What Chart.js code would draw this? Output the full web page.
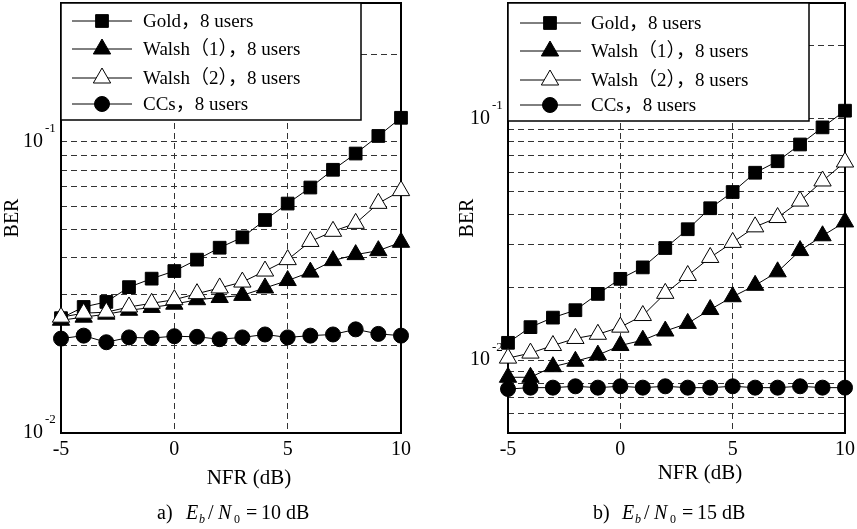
<!DOCTYPE html>
<html><head><meta charset="utf-8">
<script src="https://cdn.jsdelivr.net/npm/chart.js@4.4.1/dist/chart.umd.min.js"></script>
<style>
html,body{margin:0;padding:0;background:#fff;overflow:hidden;}
.w{position:absolute;top:0;}
#wa{left:0;width:428px;height:529px;}
#wb{left:428px;width:429px;height:529px;}
</style>
</head><body>
<div class="w" id="wa"><canvas id="ca" width="428" height="529"></canvas></div>
<div class="w" id="wb"><canvas id="cb" width="429" height="529"></canvas></div>
<script>
// ---- data ----
const nfr = [-5,-4,-3,-2,-1,0,1,2,3,4,5,6,7,8,9,10];
const seriesNames = ['Gold，8 users','Walsh（1），8 users','Walsh（2），8 users','CCs，8 users'];
const xTicks = [-5,0,5,10];

// a) Eb/N0 = 10 dB
const goldA   = [0.0248,0.0271,0.0282,0.0317,0.0339,0.0360,0.0394,0.0433,0.0470,0.0539,0.0614,0.0697,0.0802,0.0912,0.1048,0.121];
const walsh1A = [0.0244,0.0250,0.0256,0.0264,0.0270,0.0277,0.0287,0.0292,0.0297,0.0315,0.0334,0.0357,0.0391,0.0410,0.0423,0.0452];
const walsh2A = [0.0250,0.0258,0.0260,0.0271,0.0279,0.0287,0.0301,0.0315,0.0330,0.0360,0.0394,0.0455,0.0493,0.0525,0.0615,0.068];
const ccA     = [0.0211,0.0216,0.0205,0.0213,0.0212,0.0215,0.0214,0.0210,0.0213,0.0218,0.0213,0.0216,0.0218,0.0227,0.0219,0.0216];
const yTicksA = [0.01,0.02,0.03,0.04,0.05,0.06,0.07,0.08,0.09,0.1,0.2,0.3];

// b) Eb/N0 = 15 dB
const goldB   = [0.0118,0.0137,0.0150,0.0161,0.0188,0.0217,0.0242,0.0291,0.0348,0.0425,0.0496,0.0596,0.0665,0.0780,0.0918,0.1076];
const walsh1B = [0.0085,0.0085,0.0094,0.0099,0.0105,0.0115,0.0121,0.0132,0.0142,0.0162,0.0183,0.0204,0.0232,0.0284,0.0327,0.0373];
const walsh2B = [0.0102,0.0107,0.0115,0.0123,0.0128,0.0137,0.0153,0.0189,0.0224,0.0266,0.0307,0.0356,0.0389,0.0455,0.0551,0.066];
const ccB     = [0.0076,0.0077,0.0077,0.0078,0.0077,0.0078,0.0077,0.0078,0.0077,0.0077,0.0078,0.0077,0.0077,0.0078,0.0077,0.0077];
const yTicksB = [0.005,0.006,0.007,0.008,0.009,0.01,0.02,0.03,0.04,0.05,0.06,0.07,0.08,0.09,0.1,0.2,0.3];

// ---- styling ----
const SERIF = "'Liberation Serif','Times New Roman','Noto Sans CJK SC',serif";
const markerStyles = [
  {pointStyle:'rect', r:9, fill:'#000', order:4},
  {pointStyle:'triangle', r:10, fill:'#000', order:3},
  {pointStyle:'triangle', r:10, fill:'#fff', order:2},
  {pointStyle:'circle', r:7.5, fill:'#000', order:1}
];

function drawMarker(ctx, style, r, fill, x, y) {
  ctx.beginPath();
  if (style === 'rect') {
    const s = r * Math.SQRT1_2;
    ctx.rect(x - s, y - s, 2 * s, 2 * s);
  } else if (style === 'triangle') {
    ctx.moveTo(x, y - r);
    ctx.lineTo(x + r * Math.sin(2 * Math.PI / 3), y - r * Math.cos(2 * Math.PI / 3));
    ctx.lineTo(x + r * Math.sin(4 * Math.PI / 3), y - r * Math.cos(4 * Math.PI / 3));
    ctx.closePath();
  } else {
    ctx.arc(x, y, r, 0, Math.PI * 2);
  }
  ctx.fillStyle = fill; ctx.fill();
  ctx.lineWidth = 1; ctx.strokeStyle = '#000'; ctx.stroke();
}

const framePlugin = {
  id: 'frame',
  beforeDatasetsDraw(chart) {
    const a = chart.chartArea, ctx = chart.ctx;
    ctx.save(); ctx.strokeStyle = '#000'; ctx.lineWidth = 2;
    ctx.strokeRect(a.left, a.top, a.right - a.left, a.bottom - a.top);
    ctx.restore();
  }
};

const boxLegendPlugin = {
  id: 'boxLegend',
  afterDatasetsDraw(chart, args, o) {
    const a = chart.chartArea, ctx = chart.ctx;
    ctx.save();
    ctx.fillStyle = '#fff'; ctx.fillRect(a.left, a.top, o.w, o.h);
    ctx.strokeStyle = '#000'; ctx.lineWidth = 1.5; ctx.strokeRect(a.left, a.top, o.w, o.h);
    chart.data.datasets.forEach((ds, i) => {
      const y = a.top + o.rows[i];
      ctx.beginPath(); ctx.moveTo(a.left + o.lineX0, y); ctx.lineTo(a.left + o.lineX1, y);
      ctx.strokeStyle = '#000'; ctx.lineWidth = 1; ctx.stroke();
      drawMarker(ctx, ds.pointStyle, ds.pointRadius, ds.pointBackgroundColor, a.left + o.markX, y);
      ctx.fillStyle = '#000'; ctx.font = '19px ' + SERIF; ctx.textAlign = 'left'; ctx.textBaseline = 'middle';
      ctx.fillText(ds.label, a.left + o.textX, y + 1);
    });
    ctx.restore();
  }
};

const supPlugin = {
  id: 'sups',
  afterDraw(chart, args, o) {
    const ctx = chart.ctx, y = chart.scales.y, a = chart.chartArea;
    ctx.save(); ctx.fillStyle = '#000'; ctx.font = '13px ' + SERIF;
    ctx.textAlign = 'left'; ctx.textBaseline = 'middle';
    o.items.forEach(it => ctx.fillText(it.t, a.left - 16, y.getPixelForValue(it.v) - 13));
    ctx.restore();
  }
};

const captionPlugin = {
  id: 'caption',
  afterDraw(chart, args, o) {
    const ctx = chart.ctx, x0 = o.x, y = 519;
    ctx.save(); ctx.fillStyle = '#000'; ctx.textAlign = 'center'; ctx.textBaseline = 'middle';
    // x-axis title
    ctx.font = '21px ' + SERIF; ctx.fillText(o.xTitle, o.xTitleX, o.xTitleY);
    ctx.textAlign = 'left'; ctx.textBaseline = 'alphabetic';
    ctx.font = '20px ' + SERIF; ctx.fillText(o.lead, x0, y);
    ctx.font = 'italic 20px ' + SERIF; ctx.fillText('E', x0 + 29, y);
    ctx.font = 'italic 12px ' + SERIF; ctx.fillText('b', x0 + 42, y + 4);
    ctx.font = '20px ' + SERIF; ctx.fillText('/', x0 + 51, y);
    ctx.font = 'italic 20px ' + SERIF; ctx.fillText('N', x0 + 61, y);
    ctx.font = '12px ' + SERIF; ctx.fillText('0', x0 + 77, y + 4);
    ctx.font = '20px ' + SERIF; ctx.fillText('=', x0 + 89, y);
    ctx.fillText(o.val, x0 + 104, y);
    ctx.restore();
  }
};

function build(id, series, o) {
  const font = {family: SERIF, size: 20};
  return new Chart(document.getElementById(id), {
    type: 'line',
    data: {
      datasets: series.map((vals, i) => {
        const m = markerStyles[i];
        return {
          label: seriesNames[i],
          data: nfr.map((x, k) => ({x: x, y: vals[k]})),
          borderColor: '#000', borderWidth: 1, tension: 0, fill: false, clip: false,
          pointStyle: m.pointStyle, pointRadius: m.r, pointHoverRadius: m.r,
          pointBackgroundColor: m.fill, pointBorderColor: '#000', pointBorderWidth: 1,
          order: m.order
        };
      })
    },
    options: {
      responsive: false, animation: false, devicePixelRatio: 1, events: [],
      layout: {autoPadding: false, padding: {left: 0, top: 3, right: o.padRight, bottom: 0}},
      plugins: {
        legend: {display: false}, tooltip: {enabled: false},
        boxLegend: o.legend,
        sups: {items: [{v: 0.1, t: '-1'}, {v: 0.01, t: '-2'}]},
        caption: o.caption
      },
      scales: {
        x: {
          type: 'linear', min: -5, max: 10,
          afterBuildTicks: s => { s.ticks = xTicks.map(v => ({value: v})); },
          afterFit: s => { s.height = 96; s.paddingLeft = 0; s.paddingRight = 0; },
          grid: {color: '#333', lineWidth: 1, drawTicks: false},
          border: {display: false, dash: [6, 4]},
          ticks: {font: font, color: '#000', padding: 5, maxRotation: 0, autoSkip: false},
          title: {display: false, text: 'NFR (dB)'}
        },
        y: {
          type: 'logarithmic', min: o.ymin, max: 0.3,
          afterBuildTicks: s => { s.ticks = o.yTicks.map(v => ({value: v})); },
          afterFit: s => { s.width = o.yAxisW; s.paddingTop = 0; s.paddingBottom = 0; },
          grid: {color: '#333', lineWidth: 1, drawTicks: false},
          border: {display: false, dash: [6, 4]},
          ticks: {font: font, color: '#000', padding: 18, autoSkip: false,
            callback: v => (Math.abs(v - 0.1) < 1e-9 || Math.abs(v - 0.01) < 1e-9) ? '10' : ''},
          title: {display: true, text: 'BER', font: font, color: '#000', padding: {top: o.yTitlePad, bottom: 0}}
        }
      }
    },
    plugins: [framePlugin, boxLegendPlugin, supPlugin, captionPlugin]
  });
}

build('ca', [goldA, walsh1A, walsh2A, ccA], {
  padRight: 27, yAxisW: 61, ymin: 0.01, yTicks: yTicksA, yTitlePad: 1,
  legend: {w: 300, h: 117, rows: [18, 46, 75, 101], lineX0: 11, lineX1: 71, markX: 41, textX: 82},
  caption: {x: 157, lead: 'a)', val: '10 dB', xTitle: 'NFR (dB)', xTitleX: 249, xTitleY: 478}
});
build('cb', [goldB, walsh1B, walsh2B, ccB], {
  padRight: 12, yAxisW: 80, ymin: 0.005, yTicks: yTicksB, yTitlePad: 28,
  legend: {w: 301, h: 118, rows: [20, 48, 77, 102], lineX0: 12, lineX1: 73, markX: 42, textX: 83},
  caption: {x: 165, lead: 'b)', val: '15 dB', xTitle: 'NFR (dB)', xTitleX: 272, xTitleY: 473}
});
</script>
</body></html>
